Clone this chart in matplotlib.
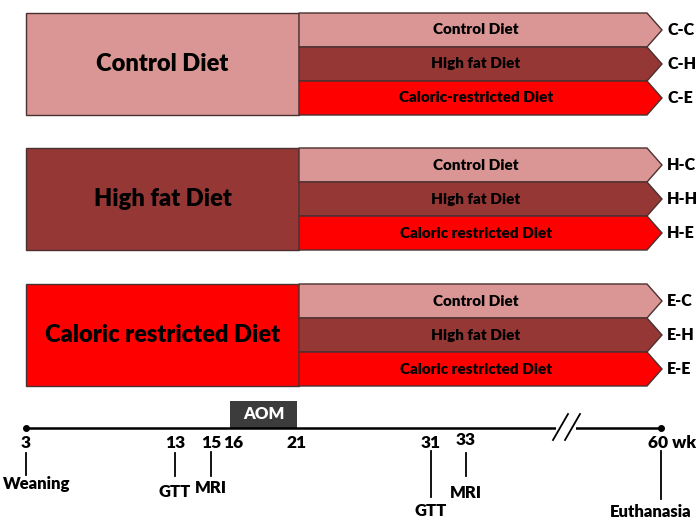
import numpy as np
import matplotlib.pyplot as plt
from matplotlib.patches import Rectangle, Polygon

plt.rcParams['font.family'] = ['Lato', 'DejaVu Sans']

# diets
group_names = ["Control Diet", "High fat Diet", "Caloric restricted Diet"]
group_colors = ["#d99694", "#953735", "#ff0000"]
sub_names = [
    ["Control Diet", "High fat Diet", "Caloric-restricted Diet"],
    ["Control Diet", "High fat Diet", "Caloric restricted Diet"],
    ["Control Diet", "High fat Diet", "Caloric restricted Diet"],
]
codes = [["C-C", "C-H", "C-E"], ["H-C", "H-H", "H-E"], ["E-C", "E-H", "E-E"]]

# timeline (weeks)
weeks = [3, 13, 15, 16, 21, 31, 33, 60]
week_labels = ["3", "13", "15", "16", "21", "31", "33", "60 wk"]
events = {3: "Weaning", 13: "GTT", 15: "MRI", 31: "GTT", 33: "MRI", 60: "Euthanasia"}
aom = (16, 21)

# broken time axis -> pixel scale
scale_wk = [3, 13, 15, 16, 21, 31, 33, 60]
scale_px = [26, 175, 211, 233, 297, 431, 466, 661]
def wx(w):
    return np.interp(w, scale_wk, scale_px)

fig = plt.figure(figsize=(7, 5.21), dpi=100)
ax = fig.add_axes([0, 0, 1, 1])
ax.set_xlim(0, 700)
ax.set_ylim(521, 0)
ax.axis("off")

edge = "#4a3030"
box_left, box_right = 26, 299
arrow_end, arrow_tip = 647, 662
row_h = 34
group_tops = [13, 148, 284]
wt = "heavy"

for g, top in enumerate(group_tops):
    ax.add_patch(Rectangle((box_left, top), box_right - box_left, 3 * row_h,
                           facecolor=group_colors[g], edgecolor=edge, lw=1))
    ax.text((box_left + box_right) / 2, top + 1.5 * row_h, group_names[g],
            ha="center", va="center", fontsize=17, fontweight=wt, color="black")
    for r in range(3):
        y0 = top + r * row_h
        pts = [(box_right, y0), (arrow_end, y0), (arrow_tip, y0 + row_h / 2),
               (arrow_end, y0 + row_h), (box_right, y0 + row_h)]
        ax.add_patch(Polygon(pts, closed=True, facecolor=group_colors[r],
                             edgecolor=edge, lw=1))
        ax.text(476, y0 + row_h / 2, sub_names[g][r], ha="center", va="center",
                fontsize=11, fontweight=wt, color="black")
        ax.text(667, y0 + row_h / 2, codes[g][r], ha="left", va="center",
                fontsize=11.5, fontweight=wt, color="black")

# timeline
ty = 428
ax.plot([wx(3), wx(60)], [ty, ty], color="black", lw=1.8, solid_capstyle="butt", zorder=2)
ax.plot([wx(3), wx(60)], [ty, ty], "o", color="black", ms=4, zorder=3)

# break marks
for dx in (0, 12):
    ax.plot([553 + dx, 568 + dx], [440, 414], color="black", lw=1.3, zorder=4)
ax.add_patch(Rectangle((556, 426), 20, 4, facecolor="white", edgecolor="none", zorder=3))

# AOM box
ax.add_patch(Rectangle((wx(aom[0]) - 3, 401), wx(aom[1]) - wx(aom[0]) + 3, ty - 401,
                       facecolor="#3c3c3c", edgecolor="none", zorder=1))
ax.text((wx(aom[0]) + wx(aom[1])) / 2 - 1, 414, "AOM", ha="center", va="center",
        fontsize=12, fontweight=wt, color="white")

label_y = {33: 440}
stub = {3: (453, 475), 13: (453, 476), 15: (452, 476), 31: (451, 497),
        33: (453, 476), 60: (451, 499)}
event_y = {3: 484, 13: 492, 15: 488, 31: 511, 33: 493, 60: 512}
event_dx = {3: -23, 60: -10}
for w, lab in zip(weeks, week_labels):
    x = wx(w)
    if lab.endswith("wk"):
        ax.text(x - 13, label_y.get(w, 443), lab, ha="left", va="center",
                fontsize=12.5, fontweight=wt)
    else:
        ax.text(x, label_y.get(w, 443), lab, ha="center", va="center",
                fontsize=12.5, fontweight=wt)
    if w in events:
        ax.plot([x, x], stub[w], color="black", lw=1.3)
        ha = "left" if w == 3 else "center"
        ax.text(x + event_dx.get(w, 0), event_y[w], events[w], ha=ha, va="center",
                fontsize=12, fontweight=wt)

fig.savefig("out.png", dpi=100)
